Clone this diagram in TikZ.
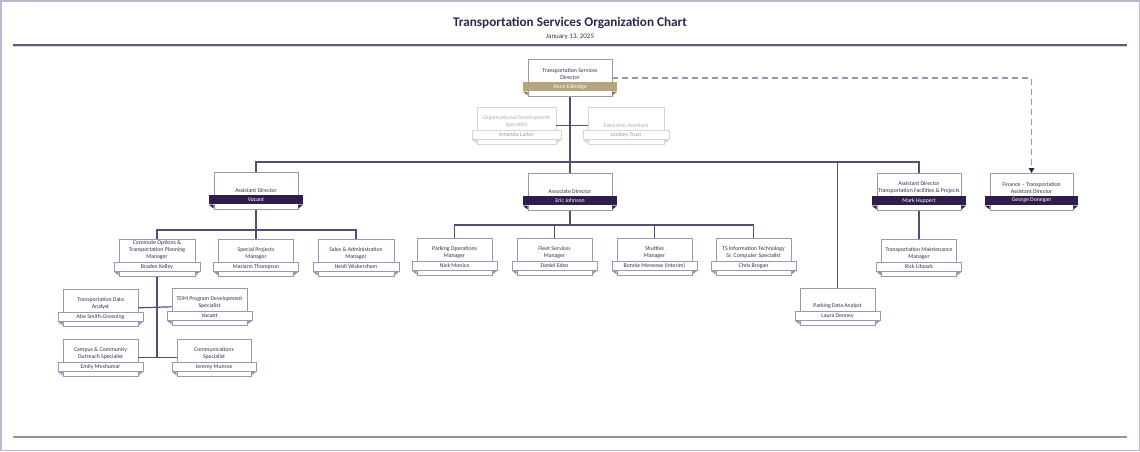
\documentclass[tikz,border=0pt]{standalone}
\usepackage{fontspec}
\setmainfont{Carlito}
\usetikzlibrary{arrows.meta}

\definecolor{uwpurple}{HTML}{2F1D4E}
\definecolor{uwgold}{HTML}{B4A57F}
\definecolor{golddark}{HTML}{8C7D55}
\definecolor{cardline}{HTML}{9C95B4}
\definecolor{cardtext}{HTML}{33304A}
\definecolor{linkcol}{HTML}{574C74}
\definecolor{dashcol}{HTML}{9D93BA}
\definecolor{titlecol}{HTML}{33244F}
\definecolor{ghostline}{HTML}{D6D6D6}
\definecolor{ghosttext}{HTML}{B0B0B0}
\definecolor{ghostname}{HTML}{999999}
\definecolor{framecol}{HTML}{BCB7CC}
\definecolor{rulecol}{HTML}{625B7E}

% name, x, top, width, title, person, band style, fold colour
\newcommand{\orgcard}[8]{%
    \node[card,minimum width=#4pt] (#1) at (#2,#3) {};
    \node[#7,minimum width=#4pt+10pt] (#1-n) at ([yshift=10pt]#1.south) {#6};
    \node[cardtitle] (#1-t) at ([yshift=1.5pt]#1-n.north) {#5};
    \fill[#8] (#1-n.south west) -- (#1-n.south west -| #1.west) -- ++(0,4) -- cycle;
    \fill[#8] (#1-n.south east) -- (#1-n.south east -| #1.east) -- ++(0,4) -- cycle;
}

\begin{document}
\begin{tikzpicture}[x=1pt,y=-1pt,
        card/.style={draw=cardline,fill=white,line width=0.6pt,minimum height=37pt,
            anchor=north,inner sep=0pt},
        cardtitle/.style={anchor=south,align=center,inner sep=0pt,text=cardtext,
            font=\fontsize{5.8}{7}\selectfont},
        bandDark/.style={fill=uwpurple,text=white,minimum height=9.5pt,inner sep=0pt,
            font=\fontsize{5.8}{7}\selectfont},
        bandGold/.style={bandDark,fill=uwgold},
        bandPlain/.style={bandDark,fill=white,draw=cardline,line width=0.6pt,text=cardtext},
        bandGhost/.style={bandPlain,draw=ghostline,text=ghostname},
        link/.style={draw=linkcol,line width=1.2pt},
        dashlink/.style={draw=dashcol,line width=1.6pt,dash pattern=on 6pt off 4pt,
            -{Triangle[length=5pt,width=5.5pt,color=uwpurple]}}]
    \useasboundingbox (0,0) rectangle (1140,451);
    \draw[framecol,line width=1.5pt] (0.75,0.75) rectangle (1139.25,450.25);

    \node[font=\fontsize{13.2}{15}\selectfont\bfseries,text=titlecol] (title) at (570,23)
        {Transportation Services Organization Chart};
    \node[font=\fontsize{7}{8}\selectfont,text=cardtext] (date) at (570,36.5) {January 13, 2025};
    \draw[rulecol,line width=1.4pt] (13,45) -- (1127,45);
    \draw[ghostline,line width=0.8pt] (13,46.6) -- (1127,46.6);
    \draw[cardline!80!gray,line width=1.2pt] (13,437) -- (1127,437);

    \orgcard{dir}{570}{59}{84}{Transportation Services\\Director}{Anne Eskridge}{bandGold}{golddark}

    \begin{scope}[card/.append style={draw=ghostline},cardtitle/.append style={text=ghosttext}]
        \orgcard{ods}{516.5}{107}{79}{Organizational Development\\Specialist}{Amanda Larkin}{bandGhost}{ghostline}
        \orgcard{exa}{626}{107}{76}{Executive Assistant}{Lindsey Trust}{bandGhost}{ghostline}
    \end{scope}

    \orgcard{ad1}{256}{172}{84}{Assistant Director}{\textit{Vacant}}{bandDark}{uwpurple}
    \orgcard{aso}{570}{173}{84}{Associate Director}{Eric Johnson}{bandDark}{uwpurple}
    \orgcard{ad3}{919}{173}{84}{Assistant Director\\Transportation Facilities \& Projects}{Mark Huppert}{bandDark}{uwpurple}
    \orgcard{fin}{1031.5}{173}{83}{Finance – Transportation\\Assistant Director}{George Donegan}{bandDark}{uwpurple}

    \orgcard{cop}{157}{239}{76}{Commute Options \&\\Transportation Planning\\Manager}{Braden Kelley}{bandPlain}{cardline}
    \orgcard{spm}{256}{239}{75}{Special Projects\\Manager}{Mariann Thompson}{bandPlain}{cardline}
    \orgcard{sam}{356}{239}{76}{Sales \& Administration\\Manager}{Heidi Wickersham}{bandPlain}{cardline}

    \orgcard{pom}{454.5}{238}{75}{Parking Operations\\Manager}{Nick Monica}{bandPlain}{cardline}
    \orgcard{fsm}{554.5}{238}{75}{Fleet Services\\Manager}{Daniel Eden}{bandPlain}{cardline}
    \orgcard{shm}{654.5}{238}{75}{Shuttles\\Manager}{Bonnie Meneese (Interim)}{bandPlain}{cardline}
    \orgcard{tsi}{753.5}{238}{75}{TS Information Technology\\Sr. Computer Specialist}{Chris Brogan}{bandPlain}{cardline}

    \orgcard{tmm}{919}{239}{75}{Transportation Maintenance\\Manager}{Rick Libsack}{bandPlain}{cardline}
    \orgcard{pda}{837.5}{288}{75}{Parking Data Analyst}{Laura Denney}{bandPlain}{cardline}

    \orgcard{tda}{100.5}{289}{75}{Transportation Data\\Analyst}{Abe Smith-Groening}{bandPlain}{cardline}
    \orgcard{tdm}{209.5}{288}{75}{TDM Program Development\\Specialist}{\textit{Vacant}}{bandPlain}{cardline}
    \orgcard{ccs}{100.5}{339}{75}{Campus \& Community\\Outreach Specialist}{Emily Meshumar}{bandPlain}{cardline}
    \orgcard{cms}{214}{339}{74}{Communications\\Specialist}{Jeremy Munroe}{bandPlain}{cardline}

    \coordinate (bus) at (570,162);
    \coordinate (lbus) at (256,230);
    \coordinate (mbus) at (570,225);

    \draw[link] (dir.south) -- (aso.north);
    \draw[link] (ods.east) -- (exa.west);
    \draw[link] (ad1.north) |- (bus) -| (ad3.north);
    \draw[link] (pda.north) -- (pda.north |- bus);
    \draw[dashlink] (dir.east) -| (fin.north);

    \draw[link] (ad1.south) -- (spm.north);
    \draw[link] (cop.north) |- (lbus) -| (sam.north);
    \draw[link] (cop.south) -- (cop.south |- ccs.east);
    \draw[link] (tda.east) -- (tdm.west);
    \draw[link] (ccs.east) -- (cms.west);

    \draw[link] (aso.south) -- (mbus);
    \draw[link] (pom.north) |- (mbus) -| (tsi.north);
    \draw[link] (fsm.north) -- (fsm.north |- mbus);
    \draw[link] (shm.north) -- (shm.north |- mbus);

    \draw[link] (ad3.south) -- (tmm.north);
\end{tikzpicture}
\end{document}
